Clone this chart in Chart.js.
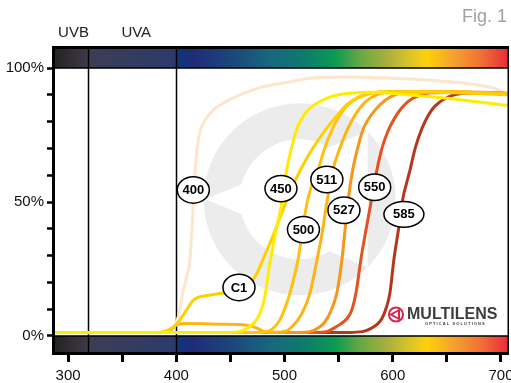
<!DOCTYPE html>
<html>
<head>
<meta charset="utf-8">
<script src="https://cdn.jsdelivr.net/npm/chart.js@4"></script>
<style>
  html,body{margin:0;padding:0;background:#fff;}
  canvas{display:block;}
</style>
</head>
<body>
<canvas id="c" width="511" height="383"></canvas>
<script>
// wavelength ticks (nm) and transmission ticks (%)
var xTicks = [300,350,400,450,500,550,600,650,700]
var xLabels = {300:'300',400:'400',500:'500',600:'600',700:'700'}
var yTicks = [0,10,20,30,40,50,60,70,80,90,100]
var yLabels = {0:'0%',50:'50%',100:'100%'}
var bandEdges = [318.5,400]

// transmission curves, [nm, %]
var curve400 = [[288,1.2],[385,1.2],[392,1.8],[398,3.5],[403,9],[406,16],[409.5,22],[412.5,28],[414.5,40],[416,52],[417.5,62],[419.5,71],[422,76.5],[425,79.5],[430,82.5],[436,85],[446,87.5],[456,89.5],[470,91.8],[480,93],[500,94.5],[530,96.5],[560,96.7],[600,96.2],[640,95.3],[664,94.5],[688,93],[700,91.5],[707.4,89.5]]
var curveC1 = [[288,1.3],[380,1.3],[390,1.8],[396,3],[401,4.6],[405,7],[409.5,9.7],[415,13],[420,14.4],[430,15.2],[445,16.2],[460,17.5],[468,19.5],[474,23],[480,28.5],[490,38],[501,49.6],[511,59],[520,66],[530,72.5],[538,77],[548,82],[558,86.5],[570,89.5],[585,91],[600,91.2],[640,91],[680,90.5],[707.4,90]]
var curve450 = [[288,1.3],[450,1.3],[460,1.8],[468,3.5],[474,6],[478,9],[482,15],[486,26],[492,39],[497.6,50],[502,62],[507,71],[512,78],[518,82.5],[525,85.5],[535,88],[545,89.6],[560,90.6],[580,91],[600,90.5],[630,89.5],[650,88.7],[680,87.3],[707.4,86]]
var curve500 = [[288,1.3],[475,1.3],[484,1.6],[490,3],[495.7,6],[500,10],[505,16],[512.4,28.4],[517,40],[520.7,49.6],[525,56],[531,62],[537,70],[544,77],[552,83],[562,87.5],[575,90],[590,91.2],[640,91.3],[707.4,90.5]]
var curve511 = [[288,1.3],[390,1.3],[396,2.6],[401,4.3],[410,4.6],[440,4.4],[465,4],[474,3],[480,1.8],[490,1.4],[502,1.9],[507,3.5],[512.4,6],[518,10],[523.5,16],[530,28.4],[535,39],[539,49.6],[544.7,62],[551,70],[558,77],[566,83],[575,87.5],[588,90.5],[600,91.3],[650,91.2],[707.4,90.5]]
var curve527 = [[288,1.3],[515,1.3],[523.5,1.6],[531,3],[537.3,5.2],[543,9.5],[548.3,16],[553,28.4],[556,40],[558.5,49.6],[563,62],[567.5,70],[572.4,77],[577,80.6],[584,84.5],[593,88],[602,90],[611,91],[650,91.2],[707.4,90.5]]
var curve550 = [[288,1.3],[530,1.3],[539,1.6],[546,3],[552,4.5],[557.7,6.5],[562,9.5],[566,16],[570.5,28.4],[575,39],[579.8,49.6],[585.4,62],[590,70],[595.6,76.5],[602,81.5],[608,85],[614,87.5],[623,89.5],[635,90.8],[680,91],[707.4,90.5]]
var curve585 = [[288,1.3],[560,1.3],[572,1.6],[580,2.8],[586,4.5],[590,6.5],[594,10.5],[597.4,16],[601,28.4],[605,39],[608.5,49.6],[616,62],[621,70.5],[627,77.5],[633,82.5],[639,85.8],[651,89.2],[665,90.6],[690,90.8],[707.4,90.3]]

// curve name tags
var tagText = ['400','450','500','511','527','550','585','C1']
var tagNm = [415.7,496.7,517.5,539.1,554.9,583.3,610.3,457.9]
var tagPct = [54.5,55,39.7,58.4,46.9,55.5,45.4,18.1]

// spectrum band colours
var specNm = [288,316,318,399.5,401,416,456,487,518,546,571,595,620,632,657,682,707.4]
var specColor = ['#262325','#3b3845','#3d3d55','#2c3a6c','#10357a','#1f2c78','#1c4a7c','#16687e','#0f7a6e','#0a9a52','#6aa844','#a8b03c','#e4c822','#ffd008','#f5a030','#f07034','#e8283a']

function pts(arr){ return arr.map(function(p){ return {x:p[0], y:p[1]} }) }

function ds(arr,color){
    return {data:pts(arr), borderColor:color, borderWidth:3, pointRadius:0, fill:false,
        cubicInterpolationMode:'monotone', borderCapStyle:'round', borderJoinStyle:'round'}
}

var decor = {
    id:'decor',
    beforeDatasetsDraw:function(chart){
        var ctx=chart.ctx, a=chart.chartArea, x=chart.scales.x, y=chart.scales.y
        ctx.save()
        ctx.beginPath(); ctx.rect(a.left,a.top,a.width,a.height); ctx.clip()
        // watermark: ring with a left-pointing cut
        var cx=x.getPixelForValue(514), cy=y.getPixelForValue(51)
        ctx.fillStyle='#ececec'
        ctx.beginPath()
        ctx.arc(cx,cy,96,0,Math.PI*2)
        ctx.moveTo(cx+60,cy)
        ctx.arc(cx,cy,60,0,Math.PI*2,true)
        ctx.fill('evenodd')
        ctx.fillStyle='#fff'
        ctx.beginPath(); ctx.moveTo(cx-94,cy); ctx.lineTo(cx+68,cy-68); ctx.lineTo(cx+68,cy+68); ctx.closePath(); ctx.fill()
        // spectrum bands
        var g=ctx.createLinearGradient(a.left,0,a.right,0)
        specNm.forEach(function(nm,i){
            var f=(x.getPixelForValue(nm)-a.left)/(a.right-a.left)
            g.addColorStop(Math.max(0,Math.min(1,f)),specColor[i])
        })
        var y100=y.getPixelForValue(100), y0=y.getPixelForValue(0)
        ctx.fillStyle=g
        ctx.fillRect(a.left,a.top,a.width,y100-a.top)
        ctx.fillRect(a.left,y0,a.width,a.bottom-y0)
        ctx.strokeStyle='#000'; ctx.lineWidth=1.5
        ctx.beginPath()
        ctx.moveTo(a.left,y100); ctx.lineTo(a.right,y100)
        ctx.moveTo(a.left,y0); ctx.lineTo(a.right,y0)
        bandEdges.forEach(function(nm){
            var px=Math.round(x.getPixelForValue(nm))+0.5
            ctx.moveTo(px,a.top); ctx.lineTo(px,a.bottom)
        })
        ctx.stroke()
        ctx.restore()
    },
    afterDatasetsDraw:function(chart){
        var ctx=chart.ctx, a=chart.chartArea, x=chart.scales.x, y=chart.scales.y
        ctx.save()
        // tags
        ctx.textAlign='center'; ctx.textBaseline='middle'
        ctx.font='bold 13px "Liberation Sans Narrow", "Arial Narrow", Arial, sans-serif'
        tagText.forEach(function(t,i){
            var px=x.getPixelForValue(tagNm[i]), py=y.getPixelForValue(tagPct[i])
            var rx=t==='585'?20:16, ry=t==='585'?12.8:13.2
            ctx.beginPath(); ctx.ellipse(px,py,rx,ry,0,0,Math.PI*2)
            ctx.fillStyle='#fff'; ctx.fill()
            ctx.lineWidth=1.5; ctx.strokeStyle='#000'; ctx.stroke()
            ctx.fillStyle='#000'; ctx.fillText(t,px,py+0.5)
        })
        // logo
        var lx=x.getPixelForValue(603), ly=y.getPixelForValue(8)
        ctx.strokeStyle='#d8234b'; ctx.lineWidth=2
        ctx.beginPath(); ctx.arc(lx,ly,7,0,Math.PI*2); ctx.stroke()
        ctx.fillStyle='#d8234b'
        ctx.beginPath(); ctx.moveTo(lx-7,ly); ctx.lineTo(lx+4,ly-6); ctx.lineTo(lx+4,ly+6); ctx.closePath(); ctx.fill()
        ctx.fillStyle='#fff'
        ctx.beginPath(); ctx.moveTo(lx-3,ly); ctx.lineTo(lx+2,ly-3); ctx.lineTo(lx+2,ly+3); ctx.closePath(); ctx.fill()
        ctx.fillStyle='#3d3d3d'; ctx.textAlign='left'
        ctx.font='bold 16px Arial, sans-serif'
        ctx.fillText('MULTILENS',lx+11,ly)
        ctx.font='bold 4px Arial, sans-serif'
        ctx.fillText('O P T I C A L   S O L U T I O N S',lx+29,ly+9)
        // frame
        ctx.strokeStyle='#000'
        ctx.lineWidth=3
        ctx.beginPath()
        ctx.moveTo(a.left-0.5,a.top-0.5); ctx.lineTo(a.right,a.top-0.5)
        ctx.moveTo(a.left-0.5,a.top-2); ctx.lineTo(a.left-0.5,a.bottom+3)
        ctx.moveTo(a.left-2,a.bottom+1.5); ctx.lineTo(a.right,a.bottom+1.5)
        ctx.stroke()
        ctx.lineWidth=1.5
        ctx.beginPath(); ctx.moveTo(a.right-0.75,a.top); ctx.lineTo(a.right-0.75,a.bottom); ctx.stroke()
        // texts
        ctx.fillStyle='#222'; ctx.textAlign='center'; ctx.textBaseline='middle'
        ctx.font='15px Arial, sans-serif'
        ctx.fillText('UVB',x.getPixelForValue(305),33)
        ctx.fillText('UVA',x.getPixelForValue(363),33)
        ctx.fillStyle='#a3a19c'; ctx.textAlign='right'
        ctx.font='18px Arial, sans-serif'
        ctx.fillText('Fig. 1',507,17)
        ctx.restore()
    }
}

new Chart(document.getElementById('c'), {
    type:'line',
    data:{
        datasets:[
            ds(curve450,'#ffec00'),
            ds(curveC1,'#ffd000'),
            ds(curve500,'#ffc20e'),
            ds(curve511,'#fdb515'),
            ds(curve527,'#f7961d'),
            ds(curve550,'#e4521f'),
            ds(curve585,'#b5381c'),
            ds(curve400,'#fde6cc')
        ]
    },
    options:{
        responsive:false,
        animation:false,
        devicePixelRatio:1,
        layout:{padding:{top:48,right:2,left:0,bottom:0}},
        plugins:{legend:{display:false},tooltip:{enabled:false}},
        scales:{
            x:{type:'linear',min:287,max:707.4,
                afterBuildTicks:function(s){ s.ticks=xTicks.map(function(v){return {value:v}}) },
                afterFit:function(s){ s.height=31; s.paddingLeft=0; s.paddingRight=0 },
                grid:{drawOnChartArea:false,drawTicks:true,tickLength:10,tickWidth:3,tickColor:'#000'},
                border:{display:false},
                ticks:{autoSkip:false,maxRotation:0,padding:5,color:'#111',font:{size:15,family:'Arial, sans-serif'},
                    callback:function(v){ return xLabels[v]||'' }}
            },
            y:{min:-6,max:107.5,
                afterBuildTicks:function(s){ s.ticks=yTicks.map(function(v){return {value:v}}) },
                afterFit:function(s){ s.width=54; s.paddingTop=0; s.paddingBottom=0 },
                grid:{drawOnChartArea:false,drawTicks:true,tickLength:7,tickWidth:2.5,tickColor:'#000'},
                border:{display:false},
                ticks:{autoSkip:false,padding:3,color:'#111',font:{size:15,family:'Arial, sans-serif'},
                    callback:function(v){ return yLabels[v]||'' }}
            }
        }
    },
    plugins:[decor]
})
</script>
</body>
</html>
